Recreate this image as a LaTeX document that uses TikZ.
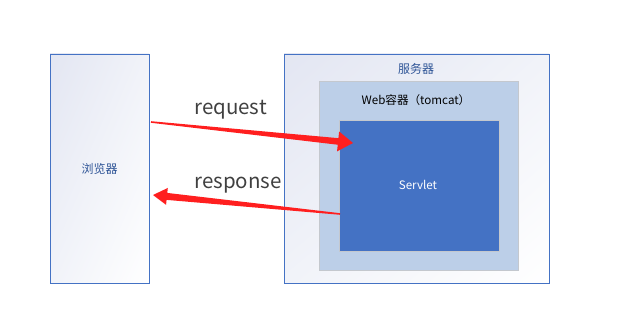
\documentclass[tikz,border=0pt]{standalone}
\usepackage{fontspec}
\setmainfont{Noto Sans CJK SC}
\usetikzlibrary{calc,shadings}
\definecolor{bordblue}{HTML}{4472C4}
\definecolor{txtblue}{HTML}{2F5597}
\definecolor{webfill}{HTML}{BCCFE8}
\definecolor{webedge}{HTML}{C4C8CE}
\definecolor{arrred}{HTML}{FF1F1F}
\definecolor{labgray}{HTML}{404040}
\definecolor{shadeA}{HTML}{E3E6F2}
\definecolor{shadeB}{HTML}{F1F3F9}
\tikzset{
  x=1pt,y=1pt,
  outerbox/.style={draw=bordblue, line width=0.9pt, upper left=shadeA, upper right=shadeB, lower left=shadeB, lower right=white},
  webbox/.style={draw=webedge, line width=0.8pt, fill=webfill},
  servbox/.style={draw=webedge, line width=0.6pt, fill=bordblue},
  smalltxt/.style={font=\fontsize{11.6}{13}\selectfont},
  bigtxt/.style={font=\fontsize{20.5}{23}\selectfont, text=labgray},
  redarrow/.style={fill=arrred, draw=none}
}
\begin{document}
\begin{tikzpicture}
\useasboundingbox (0,0) rectangle (638,331);
% boxes
\path[outerbox] (50,277) rectangle (149,48);
\path[outerbox] (284,277) rectangle (549,48);
\path[webbox] (319,250) rectangle (518,61);
\path[servbox] (339,211) rectangle (499,80);
% texts
\node[smalltxt, text=txtblue, font=\fontsize{12}{14}\selectfont] (browser) at (99.5,162.5) {浏览器};
\node[smalltxt, text=txtblue, font=\fontsize{12}{14}\selectfont] (server) at (416,262) {服务器};
\node[smalltxt, text=black] (web) at (416,231) {Web容器（tomcat）};
\node[smalltxt, text=white] (servlet) at (418,146) {Servlet};
\node[bigtxt] (req) at (230.5,221.5) {request};
\node[bigtxt] (resp) at (238,145.5) {response};
% request arrow
\coordinate (ra) at (151,209);
\coordinate (rb) at (353,188);
\coordinate (rh) at ($(rb)!15pt!(ra)$);
\fill[redarrow] ($(ra)!0.8pt!90:(rb)$) -- ($(rh)!3.3pt!-90:(ra)$) -- ($(rh)!10pt!-90:(ra)$) -- (rb)
  -- ($(rh)!10pt!90:(ra)$) -- ($(rh)!3.3pt!90:(ra)$) -- ($(ra)!0.8pt!-90:(rb)$) -- cycle;
% response arrow
\coordinate (sa) at (340,117);
\coordinate (sb) at (153,136);
\coordinate (sh) at ($(sb)!14pt!(sa)$);
\fill[redarrow] ($(sa)!0.8pt!90:(sb)$) -- ($(sh)!3.5pt!-90:(sa)$) -- ($(sh)!8.5pt!-90:(sa)$) -- (sb)
  -- ($(sh)!8.5pt!90:(sa)$) -- ($(sh)!3.5pt!90:(sa)$) -- ($(sa)!0.8pt!-90:(sb)$) -- cycle;
\end{tikzpicture}
\end{document}
